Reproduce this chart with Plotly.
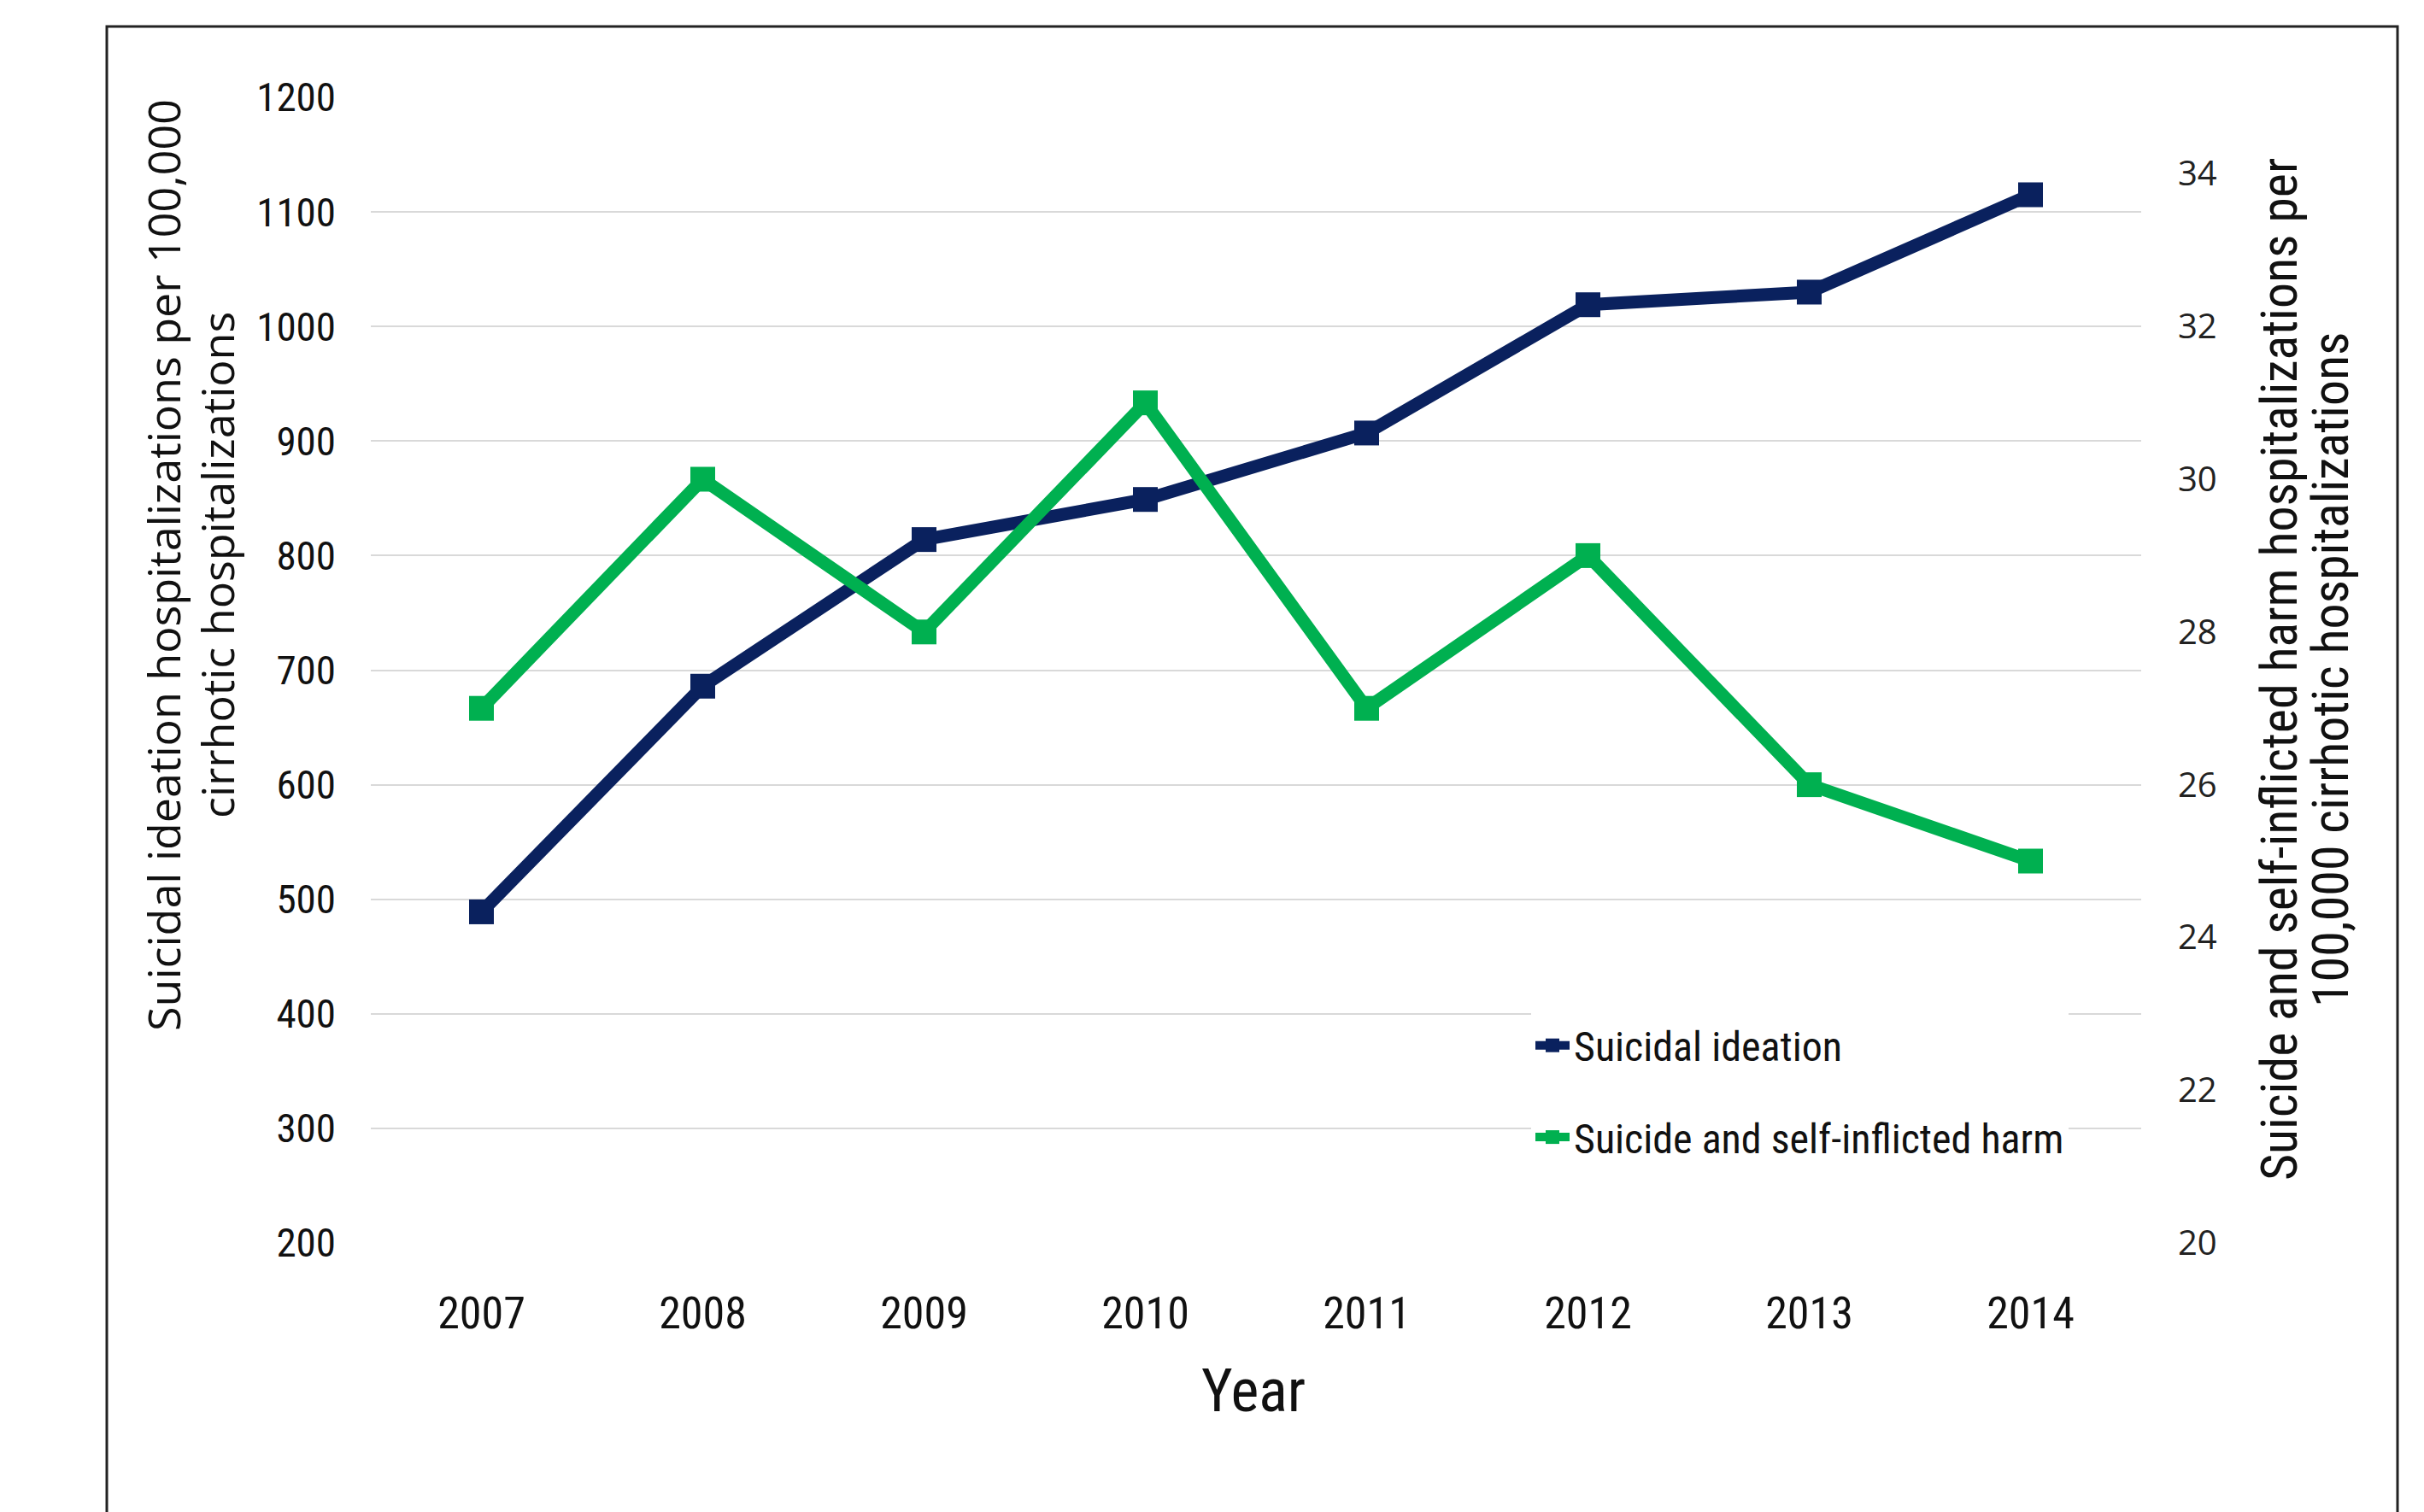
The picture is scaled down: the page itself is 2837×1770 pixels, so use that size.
import plotly.graph_objects as go

years = ["2007", "2008", "2009", "2010", "2011", "2012", "2013", "2014"]
ideation = [489, 686, 814, 849, 907, 1019, 1030, 1115]
self_harm = [27, 30, 28, 31, 27, 29, 26, 25]

left_ticks = [200, 300, 400, 500, 600, 700, 800, 900, 1000, 1100, 1200]
right_ticks = [20, 22, 24, 26, 28, 30, 32, 34]

left_title = ["Suicidal ideation hospitalizations per 100,000", "cirrhotic hospitalizations"]
right_title = ["Suicide and self-inflicted harm hospitalizations per", "100,000 cirrhotic hospitalizations"]

NAVY = "#0a215e"
GREEN = "#00b050"
NARROW = "Liberation Sans Narrow, Roboto Condensed, Arial Narrow, Liberation Sans, sans-serif"
WIDE = "Open Sans, DejaVu Sans, sans-serif"

W, H = 2837, 1770
L, R, T, B = 434, 331, 114, 315
pw = W - L - R
ph = H - T - B

def px_x(p):
    return (p - L) / pw

def px_y(p):
    return (H - B - p) / ph

fig = go.Figure()
fig.add_trace(go.Scatter(
    x=years, y=ideation, name="Suicidal ideation", mode="lines+markers",
    line=dict(color=NAVY, width=15), marker=dict(symbol="square", size=29, color=NAVY),
    legendgroup="a", yaxis="y"))
fig.add_trace(go.Scatter(
    x=years, y=self_harm, name="Suicide and self-inflicted harm", mode="lines+markers",
    line=dict(color=GREEN, width=15), marker=dict(symbol="square", size=29, color=GREEN),
    legendgroup="b", yaxis="y2"))

fig.update_layout(
    width=W, height=H,
    margin=dict(l=L, r=R, t=T, b=B, pad=0),
    paper_bgcolor="white", plot_bgcolor="white",
    showlegend=True,
    legend=dict(
        x=px_x(1792), y=px_y(1186), xanchor="left", yanchor="top",
        bgcolor="white", font=dict(family=NARROW, size=48, color="#111111"),
        traceorder="grouped", tracegroupgap=42, itemwidth=40,
    ),
    xaxis=dict(
        type="category", range=[-0.5, 7.5], showgrid=False, showline=False, zeroline=False,
        tickfont=dict(family=NARROW, size=52, color="#111111"), ticks="",
        ticklabelstandoff=47,
    ),
    yaxis=dict(
        range=[200, 1200], tickvals=left_ticks, showgrid=True, gridcolor="#d9d9d9", gridwidth=2,
        zeroline=False, showline=False, ticks="",
        tickfont=dict(family=NARROW, size=47, color="#111111"), ticklabelstandoff=40,
    ),
    yaxis2=dict(
        range=[20, 35], tickvals=right_ticks, overlaying="y", side="right",
        showgrid=False, zeroline=False, showline=False, ticks="",
        tickfont=dict(family=WIDE, size=40, color="#222222"), ticklabelstandoff=42,
    ),
    font=dict(family=NARROW, color="#111111"),
)

for txt, xp in zip(left_title, [190, 253]):
    fig.add_annotation(
        text=txt, xref="paper", yref="paper", x=px_x(xp), y=px_y(662),
        xanchor="center", yanchor="middle", textangle=-90, showarrow=False,
        font=dict(family=WIDE, size=52, color="#111111"),
    )
for txt, xp in zip(right_title, [2668, 2728]):
    fig.add_annotation(
        text=txt, xref="paper", yref="paper", x=px_x(xp), y=px_y(784),
        xanchor="center", yanchor="middle", textangle=-90, showarrow=False,
        font=dict(family=NARROW, size=60, color="#111111"),
    )
fig.add_annotation(
    text="Year", xref="paper", yref="paper", x=px_x(1467), y=px_y(1628),
    xanchor="center", yanchor="middle", showarrow=False,
    font=dict(family=NARROW, size=70, color="#111111"),
)

fig.add_shape(
    type="rect", xref="paper", yref="paper",
    x0=px_x(125), x1=px_x(2806), y0=px_y(1800), y1=px_y(31),
    line=dict(color="#222222", width=3), fillcolor="rgba(0,0,0,0)", layer="below",
)

fig.write_html("out.html")
